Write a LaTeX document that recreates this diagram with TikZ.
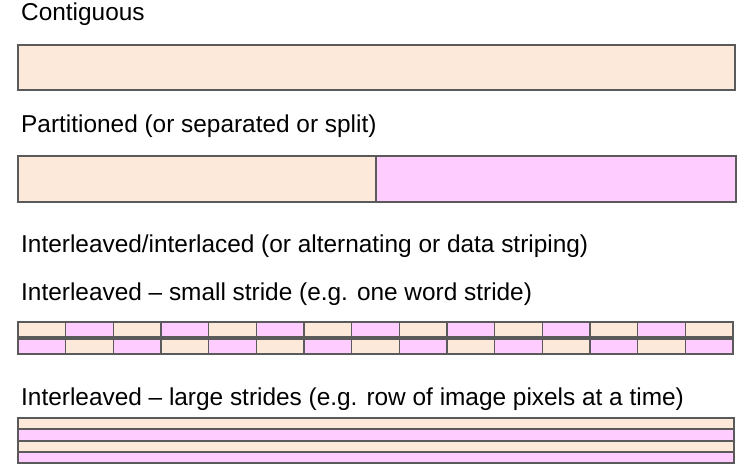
\documentclass[tikz,border=0pt]{standalone}
\usepackage{fontspec}
\setmainfont{Liberation Sans}
\definecolor{peach}{RGB}{253,233,217}
\definecolor{pinkc}{RGB}{255,204,255}
\definecolor{edgec}{RGB}{90,90,90}
\begin{document}
\begin{tikzpicture}[x=1pt,y=-1pt,
  lbl/.style={anchor=base west,inner sep=0pt,font=\fontsize{24.4}{28}\selectfont},
  cellA/.style={draw=edgec,line width=1.2pt,fill=peach},
  cellB/.style={draw=edgec,line width=1.2pt,fill=pinkc}]
\useasboundingbox (0,0) rectangle (752,474);
\node[lbl] (t1) at (21,20.5) {Contiguous};
\node[lbl] (t2) at (21,132) {Partitioned (or separated or split)};
\node[lbl] (t3) at (21,252.5) {Interleaved/interlaced (or alternating or data striping)};
\node[lbl] (t4) at (21,300) {Interleaved -- small stride (e.g. one word stride)};
\node[lbl] (t5) at (21,405) {Interleaved -- large strides (e.g. row of image pixels at a time)};
% contiguous
\draw[cellA] (18,45) rectangle (735,90);
% partitioned
\draw[cellA] (18,156) rectangle (376,202);
\draw[cellB] (376,156) rectangle (736,202);
% small stride
\foreach \i in {0,...,14}{
  \pgfmathsetmacro{\xa}{18+\i*47.67}
  \pgfmathsetmacro{\xb}{18+(\i+1)*47.67}
  \pgfmathtruncatemacro{\odd}{mod(\i,2)}
  \ifnum\odd=0
    \draw[cellA] (\xa,322) rectangle (\xb,337);
    \draw[cellB] (\xa,339) rectangle (\xb,354);
  \else
    \draw[cellB] (\xa,322) rectangle (\xb,337);
    \draw[cellA] (\xa,339) rectangle (\xb,354);
  \fi
}
% large strides
\draw[cellA] (18,418) rectangle (734,429);
\draw[cellB] (18,429) rectangle (734,441);
\draw[cellA] (18,441) rectangle (734,452);
\draw[cellB] (18,452) rectangle (734,463);
\end{tikzpicture}
\end{document}
